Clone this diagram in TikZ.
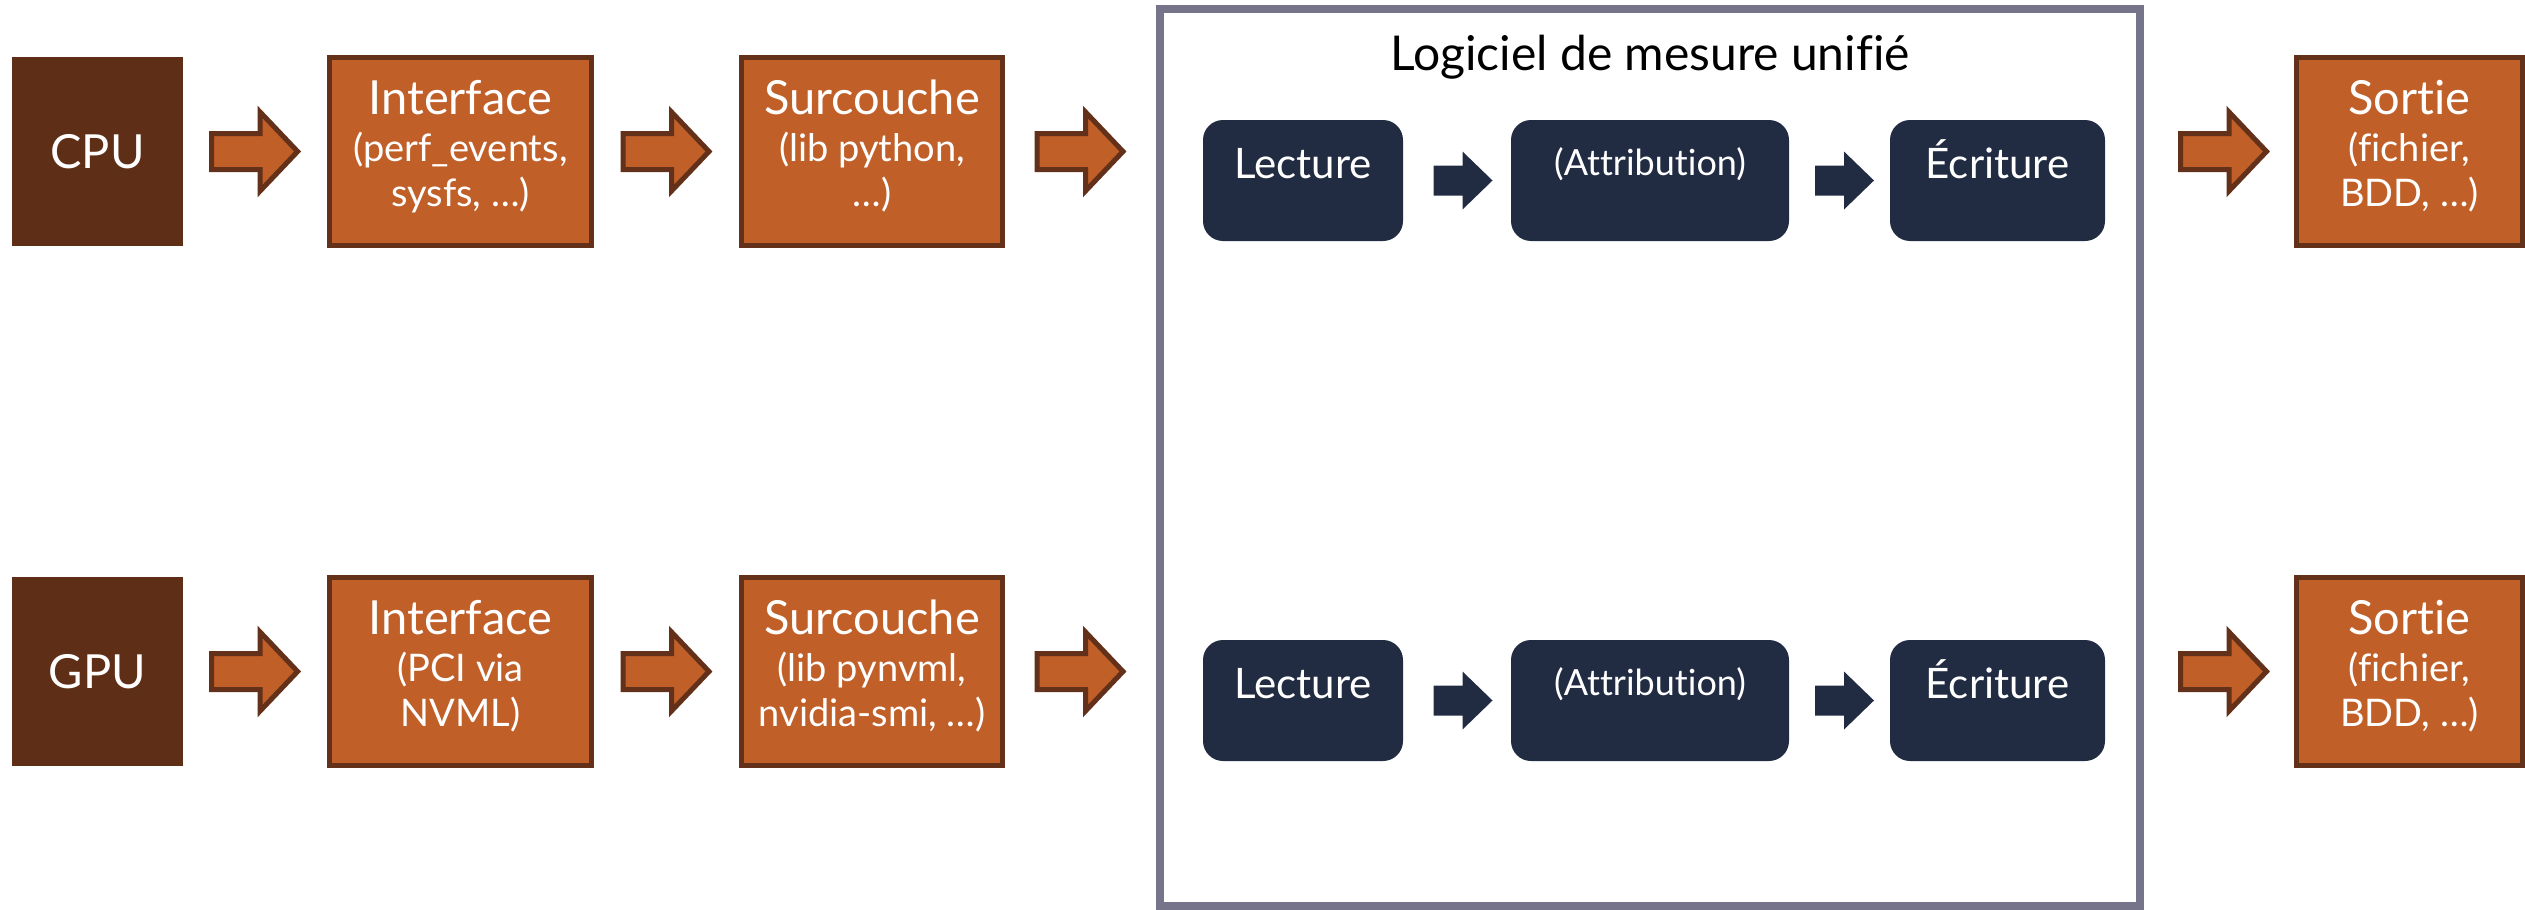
\documentclass[tikz,border=0pt]{standalone}
\usepackage{fontspec}
\setmainfont{Lato}[Ligatures=NoCommon, Contextuals=NoAlternate]
\usetikzlibrary{calc}

\definecolor{hwbrown}{HTML}{5E2E16}
\definecolor{layerorange}{HTML}{C05F28}
\definecolor{edgebrown}{HTML}{63301A}
\definecolor{stagenavy}{HTML}{212C43}
\definecolor{framegray}{HTML}{75748A}

\newcommand\lblmain{\fontsize{47}{52}\selectfont}
\newcommand\lblsub{\fontsize{38}{42}\selectfont}
\newcommand\lblstage{\fontsize{42}{46}\selectfont}
\newcommand\lblattr{\fontsize{36}{40}\selectfont}
\newcommand\lbltitle{\fontsize{48}{52}\selectfont}
% deep strut on the last line lifts the three-line block inside its box
\newcommand\lowstrut{\rule[-16pt]{0pt}{16pt}}

\begin{document}
\begin{tikzpicture}[x=1pt,y=-1pt,
  hwbox/.style={fill=hwbrown, minimum width=171pt, minimum height=189pt,
    inner sep=0pt, text=white, font=\lblmain},
  layerbox/.style={fill=layerorange, draw=edgebrown, line width=5pt,
    minimum height=188pt, inner sep=0pt, text=white, align=center, font=\lblsub},
  stagebox/.style={fill=stagenavy, rounded corners=20pt, minimum height=121pt,
    inner sep=0pt},
  stagetext/.style={text=white, anchor=base, inner sep=0pt},
  groupframe/.style={draw=framegray, line width=8pt, minimum width=980pt,
    minimum height=897pt, inner sep=0pt},
  pics/layerarrow/.style={code={
    \filldraw[fill=layerorange, draw=edgebrown, line width=5pt, miter limit=10]
      (-43.5,-18) -- (5,-18) -- (5,-39.5) -- (42.5,0) -- (5,39.5) -- (5,18)
      -- (-43.5,18) -- cycle;}},
  pics/stagearrow/.style={code={
    \fill[stagenavy]
      (-29.5,-15) -- (-0.5,-15) -- (-0.5,-29) -- (29.5,0) -- (-0.5,29)
      -- (-0.5,15) -- (-29.5,15) -- cycle;}},
]
\useasboundingbox (0,0) rectangle (2525,910);

% enclosing group for the unified measurement software
\node[groupframe] (frame) at (1650,457.5) {};
\node[anchor=base, inner sep=0pt, font=\lbltitle] (title) at (1650,70)
  {Logiciel de mesure unifié};

% ---- CPU row ----
\node[hwbox] (cpu) at (97.5,151.5) {CPU};
\node[layerbox, minimum width=262pt] (ifc1) at (460.5,151.5)
  {{\lblmain Interface}\\[5pt](perf\_events,\\[3pt]sysfs, …)\lowstrut};
\node[layerbox, minimum width=261pt] (sur1) at (872,151.5)
  {{\lblmain Surcouche}\\[5pt](lib python,\\[3pt]…)\lowstrut};
\node[stagebox, minimum width=200pt] (lec1) at (1303,180.5) {};
\node[stagebox, minimum width=278pt] (att1) at (1650,180.5) {};
\node[stagebox, minimum width=215pt] (ecr1) at (1997.5,180.5) {};
\node[stagetext, font=\lblstage] (lec1t) at (1303,178) {Lecture};
\node[stagetext, font=\lblattr] (att1t) at (1650,175) {(Attribution)};
\node[stagetext, font=\lblstage] (ecr1t) at (1997.5,178) {Écriture};
\node[layerbox, minimum width=226pt] (out1) at (2409.5,151.5)
  {{\lblmain Sortie}\\[5pt](fichier,\\[3pt]BDD, …)\lowstrut};

\pic at ($(cpu.east)!0.5!(ifc1.west)$) {layerarrow};
\pic at ($(ifc1.east)!0.5!(sur1.west)$) {layerarrow};
\pic at ($(sur1.east)!0.5!(sur1.east -| frame.west)$) {layerarrow};
\pic at ($(lec1.east)!0.5!(att1.west) + (6,0)$) {stagearrow};
\pic at ($(att1.east)!0.5!(ecr1.west) + (5,0)$) {stagearrow};
\pic at ($(out1.west -| frame.east)!0.5!(out1.west) + (5,0)$) {layerarrow};

% ---- GPU row ----
\node[hwbox] (gpu) at (97.5,671.5) {GPU};
\node[layerbox, minimum width=262pt] (ifc2) at (460.5,671.5)
  {{\lblmain Interface}\\[5pt](PCI via\\[3pt]NVML)\lowstrut};
\node[layerbox, minimum width=261pt] (sur2) at (872,671.5)
  {{\lblmain Surcouche}\\[5pt](lib pynvml,\\[3pt]nvidia-smi, …)\lowstrut};
\node[stagebox, minimum width=200pt] (lec2) at (1303,700.5) {};
\node[stagebox, minimum width=278pt] (att2) at (1650,700.5) {};
\node[stagebox, minimum width=215pt] (ecr2) at (1997.5,700.5) {};
\node[stagetext, font=\lblstage] (lec2t) at (1303,698) {Lecture};
\node[stagetext, font=\lblattr] (att2t) at (1650,695) {(Attribution)};
\node[stagetext, font=\lblstage] (ecr2t) at (1997.5,698) {Écriture};
\node[layerbox, minimum width=226pt] (out2) at (2409.5,671.5)
  {{\lblmain Sortie}\\[5pt](fichier,\\[3pt]BDD, …)\lowstrut};

\pic at ($(gpu.east)!0.5!(ifc2.west)$) {layerarrow};
\pic at ($(ifc2.east)!0.5!(sur2.west)$) {layerarrow};
\pic at ($(sur2.east)!0.5!(sur2.east -| frame.west)$) {layerarrow};
\pic at ($(lec2.east)!0.5!(att2.west) + (6,0)$) {stagearrow};
\pic at ($(att2.east)!0.5!(ecr2.west) + (5,0)$) {stagearrow};
\pic at ($(out2.west -| frame.east)!0.5!(out2.west) + (5,0)$) {layerarrow};
\end{tikzpicture}
\end{document}
